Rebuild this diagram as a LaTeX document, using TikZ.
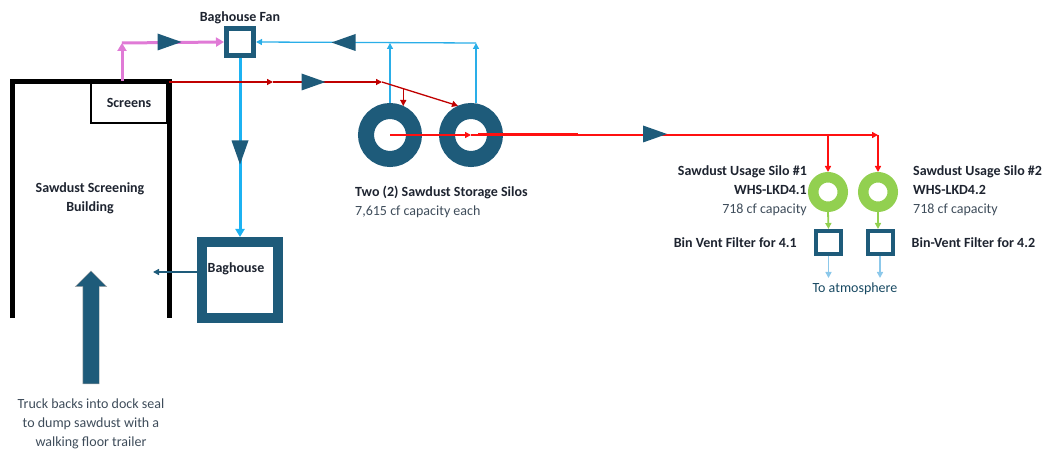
\documentclass[tikz,border=0pt]{standalone}
\usepackage{fontspec}
\setmainfont{Carlito}
\usetikzlibrary{positioning,arrows.meta,calc,shapes.arrows}
\definecolor{tealdk}{HTML}{1E5B7A}
\definecolor{txtdk}{HTML}{1E2430}
\definecolor{txtrg}{HTML}{3E4C5A}
\definecolor{pinkln}{HTML}{E07AD6}
\definecolor{skyln}{HTML}{2AAEE8}
\definecolor{skythk}{HTML}{1CB2F2}
\definecolor{atmln}{HTML}{8CC8EA}
\definecolor{redsk}{HTML}{C00000}
\definecolor{redbr}{HTML}{FF1010}
\definecolor{grnsilo}{HTML}{92D050}

\begin{document}
\begin{tikzpicture}[
  x=1pt,y=-1pt,
  font=\fontsize{14}{19}\selectfont,
  >={Triangle[length=6pt,width=6pt]},
  lbl/.style={font=\fontsize{14}{19}\selectfont\bfseries,text=txtdk,align=center,inner sep=1pt},
  note/.style={font=\fontsize{14}{19}\selectfont,text=txtrg,align=center,inner sep=1pt},
  wall/.style={line width=5pt,black},
  unitbox/.style={draw=tealdk,fill=white,inner sep=0pt},
  bigsilo/.style={circle,draw=tealdk,line width=16pt,minimum size=48pt,inner sep=0pt},
  usesilo/.style={circle,draw=grnsilo,line width=10.5pt,minimum size=29.5pt,inner sep=0pt},
  pinkflow/.style={draw=pinkln,line width=3pt,>={Triangle[length=8pt,width=9pt]}},
  airflow/.style={draw=skyln,line width=1.3pt},
  airdown/.style={draw=skythk,line width=3pt,>={Triangle[length=8pt,width=9pt]}},
  dustflow/.style={draw=redsk,line width=1.3pt},
  feedflow/.style={draw=redbr,line width=1.6pt},
  ventflow/.style={draw=atmln,line width=1.6pt},
  grnflow/.style={draw=grnsilo,line width=1.8pt},
  flowmark/.pic={\fill[tealdk] (-12,-8.5) -- (12,0) -- (-12,8.5) -- cycle;},
]
\useasboundingbox (0,0) rectangle (1050,457);

% ===== screening building =====
\coordinate (bldgNW) at (12,82);
\coordinate (bldgNE) at (169,82);
\draw[wall] (12,318) -- (bldgNW) -- (bldgNE) -- (169,318);
\node[draw=black,line width=2pt,minimum width=76pt,minimum height=41pt,inner sep=0pt,font=\fontsize{14}{19}\selectfont\bfseries,text=txtdk] (screens) at (129,102.5) {Screens};
\node[lbl] (bldg) at (90,198) {Sawdust Screening\\Building};

% ===== truck / dock =====
\node[single arrow,draw=gray!70,fill=tealdk,shape border rotate=90,inner sep=8pt,
      minimum height=113pt,single arrow head extend=7.5pt] (truck) at (91,331.5) {};
\node[note] (truckT) at (91,424) {Truck backs into dock seal\\to dump sawdust with a\\walking floor trailer};

% ===== baghouse fan + baghouse =====
\node[unitbox,line width=5pt,minimum size=27pt] (fan) at (240,42) {};
\node[lbl,above=1pt of fan] (fanT) {Baghouse Fan};
\node[unitbox,line width=10pt,minimum size=76pt] (bh) at (240,280) {};
\node[lbl] (bhT) at (236,269) {Baghouse};

% ===== storage silos =====
\node[bigsilo] (silo1) at (390,135) {};
\node[bigsilo] (silo2) at (471,135) {};
\node[note,anchor=west,align=left] (siloT) at (354,202)
  {\textbf{\textcolor{txtdk}{Two (2) Sawdust Storage Silos}}\\7,615 cf capacity each};

% ===== usage silos + bin vents =====
\node[usesilo] (use1) at (828,192) {};
\node[usesilo] (use2) at (878,192) {};
\node[unitbox,line width=4pt,minimum width=25pt,minimum height=23pt] (vent1) at (828.5,242.5) {};
\node[unitbox,line width=4pt,minimum width=25pt,minimum height=23pt] (vent2) at (880,242.5) {};
\node[note,anchor=east,align=right] (use1T) at (808,191)
  {\textbf{\textcolor{txtdk}{Sawdust Usage Silo \#1}}\\\textbf{\textcolor{txtdk}{WHS-LKD4.1}}\\718 cf capacity};
\node[note,anchor=west,align=left] (use2T) at (912,191)
  {\textbf{\textcolor{txtdk}{Sawdust Usage Silo \#2}}\\\textbf{\textcolor{txtdk}{WHS-LKD4.2}}\\718 cf capacity};
\node[lbl,left=16pt of vent1] (vent1T) {Bin Vent Filter for 4.1};
\node[lbl,right=16pt of vent2] (vent2T) {Bin-Vent Filter for 4.2};
\node[note,text=tealdk!80!black] (atmT) at (855,289) {To atmosphere};
\coordinate (atm1) at (828.5,278);
\coordinate (atm2) at (880,278);

% ===== arrows =====
% screens -> baghouse fan (pink)
\coordinate (pinkBend) at (122,43);
\draw[pinkflow,->] ([xshift=-7pt]screens.north) -- (pinkBend);
\draw[pinkflow,->] (pinkBend) -- (fan.west);
\pic at (169.5,42) {flowmark};
% silo vents -> baghouse fan (blue)
\coordinate (airTop) at (476,43);
\draw[airflow,->] (airTop) -- (fan.east);
\draw[airflow,->] (silo1.north) -- (silo1.north |- airTop);
\draw[airflow,->] ([xshift=5pt]silo2.north) -- ([xshift=5pt]silo2.north |- airTop);
\pic[rotate=180] at (343.5,42.5) {flowmark};
% fan -> baghouse -> building
\draw[airdown,->] (fan.south) -- (bh.north);
\pic[rotate=-90] at (240,152.5) {flowmark};
\draw[draw=tealdk,line width=2pt,->] ([yshift=8pt]bh.west) -- ++(-44,0) coordinate (bhOut);
% screens -> storage silos (dark red)
\coordinate (dustMid) at (273,82);
\coordinate (dustSplit) at (382,82);
\draw[dustflow,->] (bldgNE) -- (dustMid);
\draw[dustflow,->] (dustMid) -- (dustSplit);
\draw[dustflow,->] (dustSplit) -- (silo2.114);
\coordinate (dustDrop) at ($(dustSplit)!0.28!(silo2.114)$);
\draw[dustflow,->] (dustDrop) -- ([yshift=-3pt]dustDrop |- silo1.north);
\pic at (313.5,82) {flowmark};
% storage silos -> usage silos (red)
\coordinate (feedEnd) at (878,135);
\draw[feedflow,->] (silo1.center) -- (silo2.center);
\draw[feedflow,line width=3pt] ([xshift=7pt]silo2.center) -- ++(100,0);
\draw[feedflow,->] (silo2.center) -- (feedEnd);
\draw[feedflow,->] (use1.north |- feedEnd) -- (use1.north);
\draw[feedflow,->] (feedEnd) -- (use2.north);
\pic at (655,134) {flowmark};
% usage silos -> bin vents -> atmosphere
\draw[grnflow,->] (use1.south) -- (vent1.north);
\draw[grnflow,->] (use2.south) -- (vent2.north -| use2.south);
\draw[ventflow,->] (vent1.south) -- (atm1);
\draw[ventflow,->] (vent2.south) -- (atm2);
\end{tikzpicture}
\end{document}
